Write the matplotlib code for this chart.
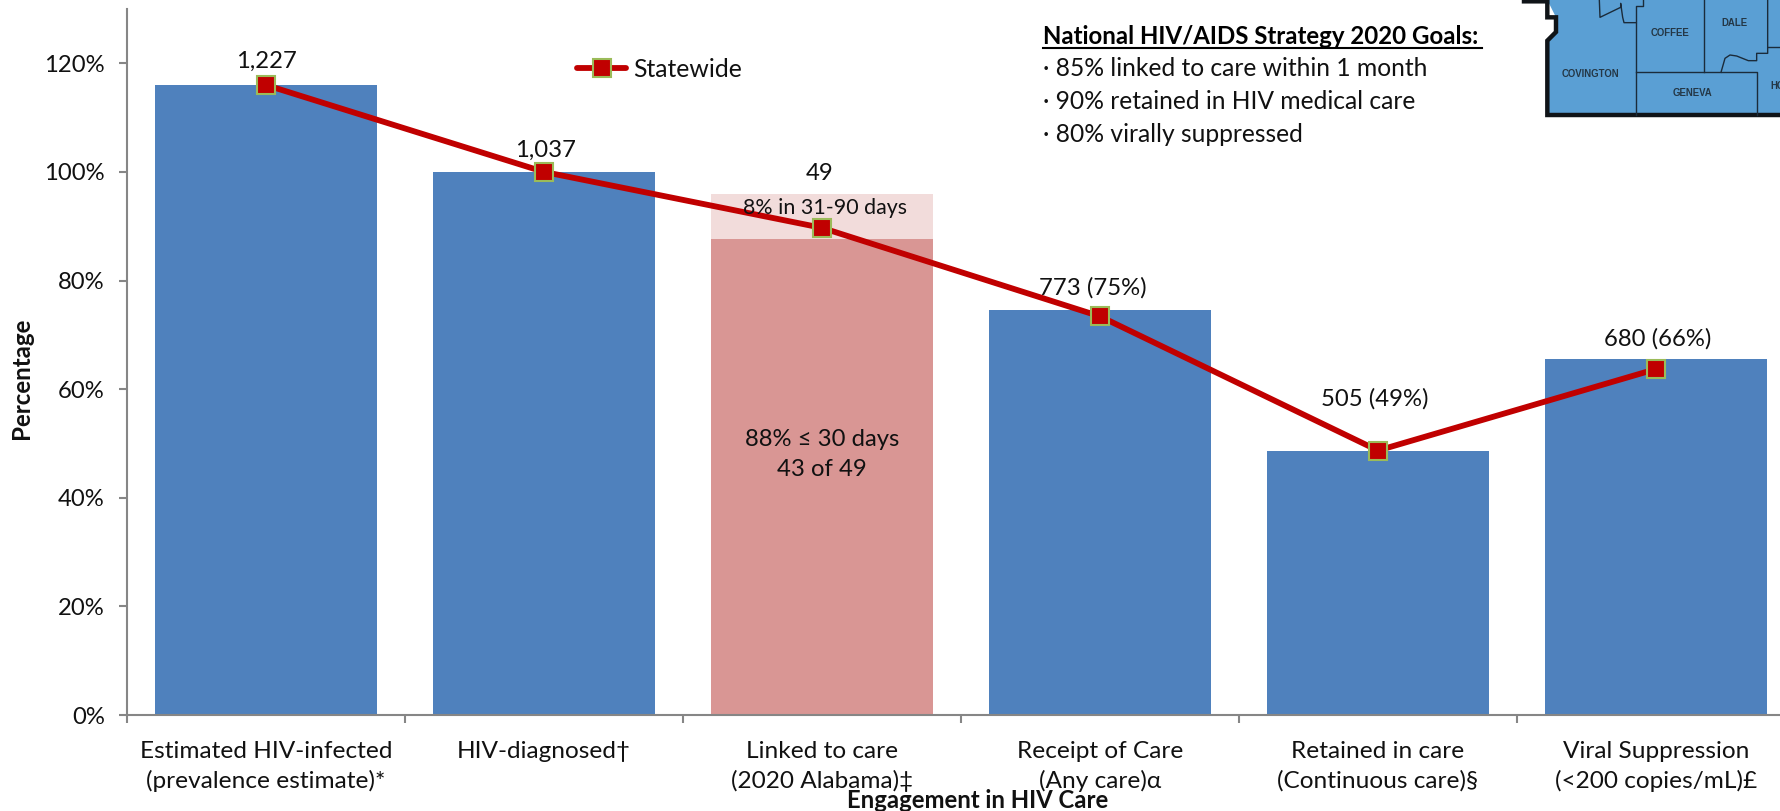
import matplotlib
matplotlib.use("Agg")
import matplotlib.pyplot as plt
from matplotlib.patches import Polygon

plt.rcParams['font.family'] = ['Lato', 'DejaVu Sans']

categories = ["Estimated HIV-infected\n(prevalence estimate)*", "HIV-diagnosed†",
              "Linked to care\n(2020 Alabama)‡", "Receipt of Care\n(Any care)α",
              "Retained in care\n(Continuous care)§", "Viral Suppression\n(<200 copies/mL)£"]
bar_values = [116, 100, 87.7, 74.6, 48.7, 65.6]
linked_late = [0, 0, 8.2, 0, 0, 0]
line_values = [116, 100, 89.7, 73.4, 48.7, 63.7]
bar_labels = ["1,227", "1,037", "49", "773 (75%)", "505 (49%)", "680 (66%)"]
label_levels = [120.3, 103.9, 99.8, 78.6, 58.3, 69.2]
label_shift_px = [0, 2, -2, -7, -3, 2]
yticks = [0, 20, 40, 60, 80, 100, 120]
goals = ["· 85% linked to care within 1 month", "· 90% retained in HIV medical care", "· 80% virally suppressed"]

W, H = 1780, 811
FS = 17.2
INK = "#111111"
fig = plt.figure(figsize=(W / 100, H / 100), dpi=100)
ax = fig.add_axes([127 / W, (H - 715) / H, 1668 / W, 706 / H])
x = list(range(6))
blue, pink, lightpink, red = "#4F81BD", "#D99694", "#F2DCDB", "#C00000"
colors = [blue, blue, pink, blue, blue, blue]
ax.bar(x, bar_values, width=0.8, color=colors, zorder=2)
ax.bar(x, linked_late, bottom=bar_values, width=0.8, color=lightpink, zorder=2)
ax.plot(x, line_values, color=red, lw=4.2, marker="s", ms=12.5, mfc=red, mec="#9BBB59",
        mew=1.5, zorder=3, label="Statewide", solid_capstyle="round")

ax.set_xlim(-0.5, 5.5)
ax.set_ylim(0, 130)
ax.set_yticks(yticks)
ax.set_yticklabels([f"{v}%" for v in yticks], fontsize=FS, color=INK)
ax.set_xticks([i - 0.5 for i in range(7)])
ax.set_xticklabels([])
ax.tick_params(axis="both", color="#868686", width=1.5, length=6)
ax.tick_params(axis="y", direction="out", pad=10)
for s in ("top", "right"):
    ax.spines[s].set_visible(False)
for s in ("left", "bottom"):
    ax.spines[s].set_color("#868686")
    ax.spines[s].set_linewidth(1.5)
for i, c in enumerate(categories):
    ax.annotate(c, (i, 0), xytext=(0, -26), textcoords="offset pixels", ha="center", va="top",
                fontsize=17.6, linespacing=1.46, color=INK, annotation_clip=False)
for i, (lab, lev, sh) in enumerate(zip(bar_labels, label_levels, label_shift_px)):
    ax.annotate(lab, (i, lev), xytext=(sh, 0), textcoords="offset pixels", ha="center", va="center",
                fontsize=FS, color=INK, zorder=4)
ax.annotate("8% in 31-90 days", (2, 93.3), xytext=(3, 0), textcoords="offset pixels", ha="center",
            va="center", fontsize=15.4, color=INK, zorder=4)
ax.text(2, 47.9, "88% ≤ 30 days\n43 of 49", ha="center", va="center", fontsize=FS,
        linespacing=1.52, color=INK, zorder=4)
fig.text(21.5 / W, 1 - 378 / H, "Percentage", rotation=90, ha="center", va="center",
         fontsize=17.4, fontweight="bold", color=INK)
fig.text(978 / W, 1 - 800 / H, "Engagement in HIV Care", ha="center", va="center",
         fontsize=17.2, fontweight="bold", color=INK)
ax.legend(loc="upper left", bbox_to_anchor=((577 - 127) / 1668, (715 - 58) / 706), frameon=False,
          fontsize=17.8, handlelength=2.0, handletextpad=0.25, borderpad=0, borderaxespad=0,
          labelcolor=INK)

# goals box
fig.text(1043 / W, 1 - 36 / H, "National HIV/AIDS Strategy 2020 Goals:", ha="left", va="center",
         fontsize=17.3, fontweight="bold", color="black")
fig.add_artist(plt.Line2D([1043 / W, 1482 / W], [1 - 48 / H] * 2, color="black", lw=1.5))
for i, g in enumerate(goals):
    fig.text(1043 / W, 1 - (69 + i * 32.5) / H, g, ha="left", va="center", fontsize=17.7, color=INK)

# inset map: crop coordinates (crop origin 1530,0, scale 3), y down
m = fig.add_axes([0, 0, 1, 1], zorder=5)
m.set_xlim(0, W); m.set_ylim(H, 0); m.axis("off"); m.patch.set_alpha(0)
mapblue, dark = "#5A9FD4", "#1B2B3A"


def P(pts):
    return [(1530 + a / 3, b / 3) for a, b in pts]


edge = [(-18, 4), (52, 4), (52, 52), (78, 52), (78, 96), (52, 122), (52, 345), (750, 345)]
m.add_patch(Polygon(P([(52, 0), (750, 0)] + edge[:2:-1]), closed=True, fc=mapblue, ec="none"))
m.plot(*zip(*P(edge)), color="#101418", lw=3.2, solid_joinstyle="miter")
segments = [
    [(319, 345), (319, 18), (340, 18), (340, 0)],
    [(319, 68), (282, 68), (278, 52), (272, 10), (272, 22), (210, 52), (208, 0)],
    [(319, 217), (680, 217), (680, 345)],
    [(522, 0), (522, 217)],
    [(713, 0), (713, 160), (680, 160), (680, 182), (655, 182), (620, 168), (600, 165), (585, 175), (573, 217)],
    [(713, 142), (750, 142)],
]
for seg in segments:
    m.plot(*zip(*P(seg)), color=dark, lw=1.0)
county_labels = [((180, 222), "COVINGTON"), ((420, 98), "COFFEE"), ((612, 70), "DALE"), ((487, 278), "GENEVA")]
for (a, b), t in county_labels:
    (tx, ty), = P([(a, b)])
    m.text(tx, ty, t, ha="center", va="center", fontsize=6.9, fontweight="bold", color="#243746",
           family=["Liberation Sans"])
(tx, ty), = P([(720, 258)])
m.text(tx, ty, "HO", ha="left", va="center", fontsize=6.9, fontweight="bold", color="#243746",
       family=["Liberation Sans"])

fig.savefig("out.png", dpi=100)
